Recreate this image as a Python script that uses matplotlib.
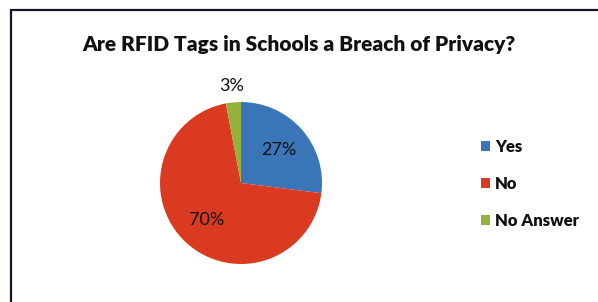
import matplotlib.pyplot as plt
from matplotlib.patches import Rectangle
import numpy as np

plt.rcParams['font.family'] = ['Lato', 'DejaVu Sans']

labels = ['Yes', 'No', 'No Answer']
values = [27, 70, 3]
colors = ['#3a75b8', '#da3b20', '#92b23c']

W, H = 598, 302
fig = plt.figure(figsize=(W / 100, H / 100), dpi=100)

# chart frame (cut off at right and bottom)
fig.patches.append(Rectangle((11 / W, -0.1), 1.2, (H - 10) / H + 0.1,
                             transform=fig.transFigure, fill=False,
                             edgecolor='#15152a', linewidth=1.6))

fig.text(299 / W, 1 - 44 / H, 'Are RFID Tags in Schools a Breach of Privacy?',
         ha='center', va='center', fontsize=15, fontweight='heavy', color='#111111')

cx, cy, r = 241, 183, 81
ax = fig.add_axes([(cx - r) / W, (H - cy - r) / H, 2 * r / W, 2 * r / H])
wedges, texts, autotexts = ax.pie(values, colors=colors, startangle=90,
                                  counterclock=False, autopct='%d%%',
                                  pctdistance=0.62,
                                  textprops={'fontsize': 13, 'color': '#111111'})
ax.set_xlim(-1, 1)
ax.set_ylim(-1, 1)

# small slice label sits outside the pie
w = wedges[2]
mid = np.deg2rad((w.theta1 + w.theta2) / 2)
autotexts[2].set_position((1.2 * np.cos(mid), 1.2 * np.sin(mid)))

leg = fig.legend(wedges, labels, loc='center left',
                 bbox_to_anchor=(466 / W, 1 - 184 / H),
                 frameon=False, handlelength=0.55, handleheight=0.55,
                 handletextpad=0.3, labelspacing=1.25,
                 prop={'size': 12, 'weight': 'heavy'})
for t in leg.get_texts():
    t.set_color('#111111')

fig.savefig('out.png', dpi=100)
